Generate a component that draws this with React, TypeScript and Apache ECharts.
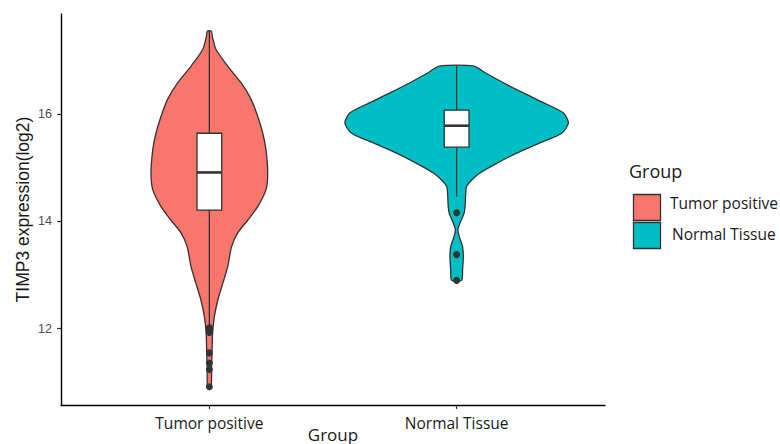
import React, { useEffect, useRef } from "react";
import * as echarts from "echarts";

const groups = ["Tumor positive", "Normal Tissue"];
const groupColors = ["#F8766D", "#00BFC4"];
const yTicks = [12, 14, 16];

// violin outlines: y values and half-widths (x-axis units)
const tumorDensityY = [10.91, 11.28, 11.6, 11.91, 12.22, 12.53, 12.84, 13.15, 13.53, 13.78, 14.02, 14.27, 14.59, 14.9, 15.33, 15.64, 15.96, 16.27, 16.58, 16.89, 17.2, 17.42, 17.54];
const tumorDensityW = [0.007, 0.009, 0.011, 0.013, 0.02, 0.034, 0.054, 0.074, 0.09, 0.114, 0.155, 0.195, 0.229, 0.236, 0.229, 0.216, 0.195, 0.169, 0.128, 0.074, 0.027, 0.013, 0.008];
const normalDensityY = [12.9, 13.09, 13.34, 13.53, 13.71, 13.84, 13.96, 14.15, 14.27, 14.46, 14.65, 14.77, 14.9, 15.08, 15.27, 15.46, 15.64, 15.83, 16.02, 16.21, 16.39, 16.58, 16.77, 16.89];
const normalDensityW = [0.02, 0.024, 0.027, 0.024, 0.011, 0.005, 0.013, 0.03, 0.034, 0.036, 0.04, 0.061, 0.094, 0.162, 0.243, 0.337, 0.425, 0.452, 0.431, 0.351, 0.27, 0.189, 0.114, 0.07];

// box stats: lower whisker, Q1, median, Q3, upper whisker
const tumorBox = [12.07, 14.21, 14.91, 15.64, 17.54];
const normalBox = [14.46, 15.38, 15.78, 16.07, 16.89];

const tumorOutliers = [12.02, 11.99, 11.97, 11.95, 11.93, 11.55, 11.36, 11.24, 10.92];
const normalOutliers = [14.16, 13.38, 12.9];

const densityY = [tumorDensityY, normalDensityY];
const densityW = [tumorDensityW, normalDensityW];
const boxes = [tumorBox, normalBox];
const outliers = [tumorOutliers, normalOutliers];

const BOX_HALF = 0.05;

export default function App() {
  const ref = useRef<HTMLDivElement>(null);
  useEffect(() => {
    if (!ref.current) return;
    const chart = echarts.init(ref.current, null, { renderer: "svg" });

    const violinRender = (params: any, api: any) => {
      const g = api.value(0);
      const cx = g + 1;
      const ys = densityY[g];
      const ws = densityW[g];
      const pts: number[][] = [];
      for (let i = 0; i < ys.length; i++) pts.push(api.coord([cx + ws[i], ys[i]]));
      for (let i = ys.length - 1; i >= 0; i--) pts.push(api.coord([cx - ws[i], ys[i]]));
      return {
        type: "polygon",
        shape: { points: pts, smooth: 0.25 },
        style: { fill: groupColors[g], stroke: "#333333", lineWidth: 1.3 },
      };
    };

    const boxRender = (params: any, api: any) => {
      const g = api.value(0);
      const cx = g + 1;
      const b = boxes[g];
      const top = api.coord([cx - BOX_HALF, b[3]]);
      const bot = api.coord([cx + BOX_HALF, b[1]]);
      const medL = api.coord([cx - BOX_HALF, b[2]]);
      const medR = api.coord([cx + BOX_HALF, b[2]]);
      const wTop = api.coord([cx, b[4]]);
      const wBot = api.coord([cx, b[0]]);
      const q3c = api.coord([cx, b[3]]);
      const q1c = api.coord([cx, b[1]]);
      const lineStyle = { stroke: "#333333", lineWidth: 1.3 };
      return {
        type: "group",
        children: [
          { type: "line", shape: { x1: wTop[0], y1: wTop[1], x2: q3c[0], y2: q3c[1] }, style: lineStyle },
          { type: "line", shape: { x1: q1c[0], y1: q1c[1], x2: wBot[0], y2: wBot[1] }, style: lineStyle },
          {
            type: "rect",
            shape: { x: top[0], y: top[1], width: bot[0] - top[0], height: bot[1] - top[1] },
            style: { fill: "#ffffff", stroke: "#333333", lineWidth: 1.3 },
          },
          { type: "line", shape: { x1: medL[0], y1: medL[1], x2: medR[0], y2: medR[1] }, style: { stroke: "#333333", lineWidth: 2.6 } },
        ],
      };
    };

    const outlierData: number[][] = [];
    outliers.forEach((arr, g) => arr.forEach((v) => outlierData.push([g + 1, v])));

    chart.setOption({
      animation: false,
      grid: { left: 61, right: 175, top: 14, bottom: 39, containLabel: false, outerBoundsMode: "none" },
      xAxis: {
        type: "value",
        min: 0.4,
        max: 2.6,
        splitLine: { show: false },
        axisLine: { show: true, lineStyle: { color: "#000000", width: 1.4 } },
        axisTick: { show: true, customValues: [1, 2], length: 4, lineStyle: { color: "#333333", width: 1.2 } },
        axisLabel: {
          customValues: [1, 2],
          formatter: (v: number) => groups[Math.round(v) - 1] || "",
          color: "#1a1a1a",
          fontFamily: "Open Sans",
          fontSize: 15.5,
          margin: 10,
        },
        name: "Group",
        nameLocation: "middle",
        nameGap: 21,
        nameMoveOverlap: false,
        nameTextStyle: { fontFamily: "Open Sans", fontSize: 17, color: "#1a1a1a" },
      },
      yAxis: {
        type: "value",
        min: 10.58,
        max: 17.86,
        splitLine: { show: false },
        axisLine: { show: true, lineStyle: { color: "#000000", width: 1.4 } },
        axisTick: { show: true, customValues: yTicks, length: 4, lineStyle: { color: "#333333", width: 1.2 } },
        axisLabel: {
          customValues: yTicks,
          color: "#4D4D4D",
          fontFamily: "Liberation Sans",
          fontSize: 12.5,
          margin: 9,
        },
        name: "TIMP3 expression(log2)",
        nameLocation: "middle",
        nameGap: 29,
        nameMoveOverlap: false,
        nameTextStyle: { fontFamily: "Liberation Sans", fontSize: 17.5, color: "#1a1a1a" },
      },
      series: [
        { type: "custom", renderItem: violinRender, data: [[0], [1]], z: 1, silent: true },
        { type: "custom", renderItem: boxRender, data: [[0], [1]], z: 2, silent: true },
        {
          type: "scatter",
          data: outlierData,
          symbolSize: 7,
          itemStyle: { color: "#333333", opacity: 1 },
          z: 3,
          silent: true,
        },
      ],
      graphic: [
        { type: "text", left: 629, top: 162, style: { text: "Group", fontFamily: "Open Sans", fontSize: 18, fill: "#1a1a1a" } },
        { type: "rect", shape: { x: 633.5, y: 194.5, width: 27, height: 26 }, style: { fill: groupColors[0], stroke: "#333333", lineWidth: 1.3 } },
        { type: "rect", shape: { x: 633.5, y: 222.5, width: 27, height: 26 }, style: { fill: groupColors[1], stroke: "#333333", lineWidth: 1.3 } },
        { type: "text", left: 670, top: 195, style: { text: groups[0], fontFamily: "Open Sans", fontSize: 15.5, fill: "#1a1a1a" } },
        { type: "text", left: 672, top: 226, style: { text: groups[1], fontFamily: "Open Sans", fontSize: 15.5, fill: "#1a1a1a" } },
      ],
    });
    return () => chart.dispose();
  }, []);
  return <div ref={ref} style={{ width: 780, height: 444, position: "absolute", left: 0, top: 0 }} />;
}
